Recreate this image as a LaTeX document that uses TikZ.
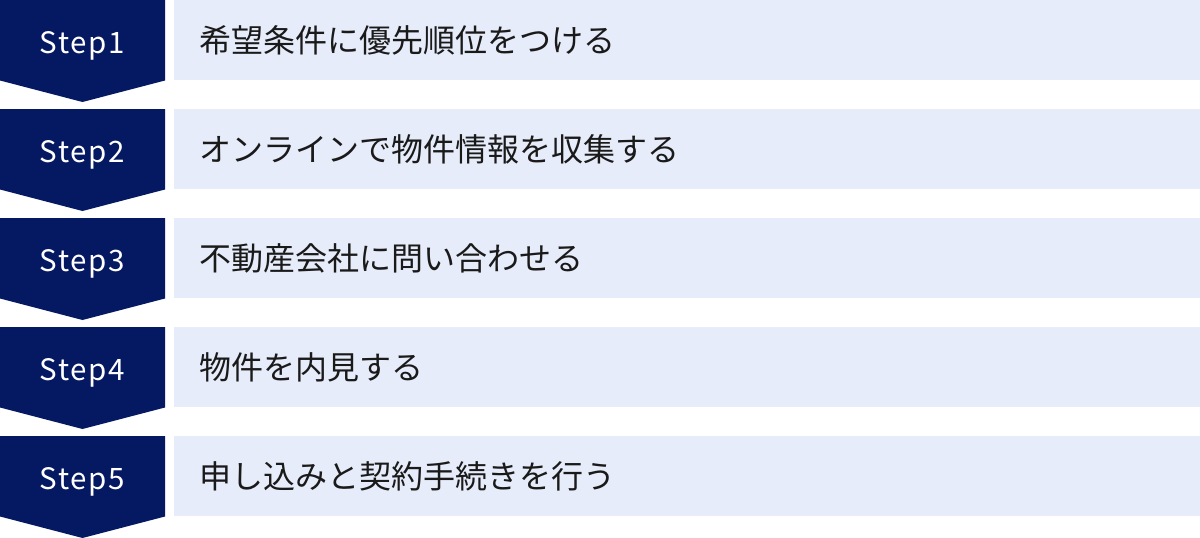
\documentclass[tikz,border=0pt]{standalone}
\usepackage{fontspec}
\setmainfont{Noto Sans CJK JP}
\newfontfamily\stepfont[LetterSpace=6]{Noto Sans CJK JP}
\definecolor{navy}{RGB}{5,24,98}
\definecolor{lightbox}{RGB}{230,236,249}
\definecolor{txt}{RGB}{26,26,26}
\begin{document}
\begin{tikzpicture}[x=1pt,y=-1pt,
  stepshape/.style={fill=navy,draw=none},
  itembox/.style={fill=lightbox,draw=none},
  steplabel/.style={text=white,font=\stepfont\fontsize{29.5}{36}\selectfont,anchor=base,inner sep=0pt},
  itemlabel/.style={text=txt,font=\fontsize{32}{36}\selectfont,anchor=west,inner sep=0pt}]
\useasboundingbox (0,0) rectangle (1200,538);
\foreach \i/\t in {0/希望条件に優先順位をつける,1/オンラインで物件情報を収集する,2/不動産会社に問い合わせる,3/物件を内見する,4/申し込みと契約手続きを行う}{
  \pgfmathsetmacro{\yy}{\i*109}
  \fill[stepshape] (0,\yy) -- (165,\yy) -- (165,\yy+80.5) -- (82.5,\yy+102) -- (0,\yy+80.5) -- cycle;
  \fill[itembox] (174,\yy) rectangle (1200,\yy+80);
  \pgfmathtruncatemacro{\n}{\i+1}
  \node[steplabel] (s\n) at (82.5,\yy+53.3) {Step\n};
  \node[itemlabel] (t\n) at (199.5,\yy+40.5) {\t};
}
\end{tikzpicture}
\end{document}
